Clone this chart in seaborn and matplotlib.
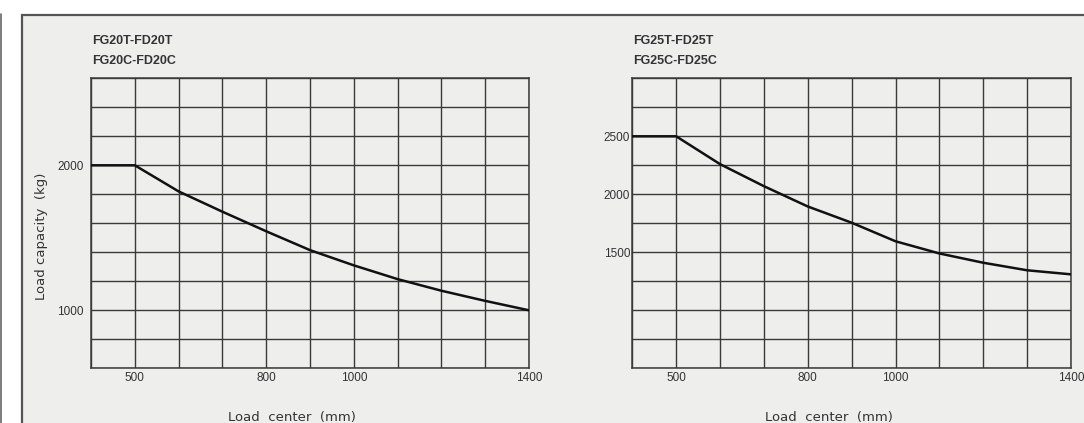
import numpy as np
import pandas as pd
import seaborn as sns
import matplotlib.pyplot as plt
from matplotlib.patches import Rectangle
from matplotlib.lines import Line2D

# -------------------------------
# Data
# -------------------------------
load_center = [400, 500, 600, 700, 800, 900, 1000, 1100, 1200, 1300, 1400]
cap_fg20 = [2000, 2000, 1820, 1680, 1545, 1415, 1310, 1215, 1135, 1065, 1000]
cap_fg25 = [2500, 2500, 2260, 2070, 1895, 1755, 1595, 1490, 1410, 1345, 1310]

x_ticks = [400, 500, 600, 700, 800, 900, 1000, 1100, 1200, 1300, 1400]
x_labels = ["", "500", "", "", "800", "", "1000", "", "", "", "1400"]

y_ticks_20 = [600, 800, 1000, 1200, 1400, 1600, 1800, 2000, 2200, 2400, 2600]
y_labels_20 = ["", "", "1000", "", "", "", "", "2000", "", "", ""]

y_ticks_25 = [500, 750, 1000, 1250, 1500, 1750, 2000, 2250, 2500, 2750, 3000]
y_labels_25 = ["", "", "", "", "1500", "", "2000", "", "2500", "", ""]

titles_20 = ["FG20T-FD20T", "FG20C-FD20C"]
titles_25 = ["FG25T-FD25T", "FG25C-FD25C"]

df20 = pd.DataFrame({"center": load_center, "capacity": cap_fg20})
df25 = pd.DataFrame({"center": load_center, "capacity": cap_fg25})

# -------------------------------
# Figure / panel
# -------------------------------
sns.set_style("white")
plt.rcParams["font.family"] = ["Liberation Sans", "DejaVu Sans"]

W, H = 1084, 423
fig = plt.figure(figsize=(W / 100, H / 100), dpi=100)
fig.patch.set_facecolor("white")

panel_bg = "#eeefed"
ink = "#3a3a3a"
fig.patches.append(Rectangle((22 / W, -0.2), 1.2, 0.2 + 1 - 15 / H,
                             transform=fig.transFigure, facecolor=panel_bg,
                             edgecolor="#555555", linewidth=1.6, zorder=-2))
fig.lines.append(Line2D([1 / W, 1 / W], [0, 1 - 14 / H], transform=fig.transFigure,
                        color="#666666", linewidth=1.2, zorder=-2))


def draw_chart(ax, df, yticks, ylabels, titles, tx, ypad):
    sns.lineplot(data=df, x="center", y="capacity", ax=ax, color="#111111",
                 linewidth=1.8, zorder=5)
    ax.set_facecolor(panel_bg)
    ax.set_xlim(x_ticks[0], x_ticks[-1])
    ax.set_ylim(yticks[0], yticks[-1])
    ax.set_xticks(x_ticks, x_labels)
    ax.set_yticks(yticks, ylabels)
    ax.grid(True, color=ink, linewidth=1.0)
    ax.set_axisbelow(True)
    for s in ax.spines.values():
        s.set_visible(True)
        s.set_color(ink)
        s.set_linewidth(1.1)
    ax.tick_params(axis="x", length=0, pad=3, labelsize=8.5, labelcolor="#333333")
    ax.tick_params(axis="y", length=0, pad=ypad, labelsize=8.5, labelcolor="#333333")
    ax.set_xlabel("")
    ax.set_ylabel("")
    fig.text(tx / W, 1 - 41 / H, titles[0], fontsize=9, fontweight="bold",
             color="#333333", va="center", ha="left")
    fig.text(tx / W, 1 - 61 / H, titles[1], fontsize=9, fontweight="bold",
             color="#333333", va="center", ha="left")


ax1 = fig.add_axes([91 / W, 1 - 368.3 / H, 438 / W, 290 / H])
ax2 = fig.add_axes([632.3 / W, 1 - 368.3 / H, 438.7 / W, 290 / H])

draw_chart(ax1, df20, y_ticks_20, y_labels_20, titles_20, 92, 5.5)
draw_chart(ax2, df25, y_ticks_25, y_labels_25, titles_25, 633, 1.5)

# axis titles
fig.text(41 / W, 1 - 236 / H, "Load capacity  (kg)", rotation=90, fontsize=9.5,
         family="DejaVu Sans", color="#333333", ha="center", va="center")
fig.text(292 / W, 1 - 417 / H, "Load  center  (mm)", fontsize=9.5,
         family="DejaVu Sans", color="#333333", ha="center", va="center")
fig.text(829 / W, 1 - 417 / H, "Load  center  (mm)", fontsize=9.5,
         family="DejaVu Sans", color="#333333", ha="center", va="center")

fig.savefig("out.png", dpi=100, facecolor=fig.get_facecolor())
